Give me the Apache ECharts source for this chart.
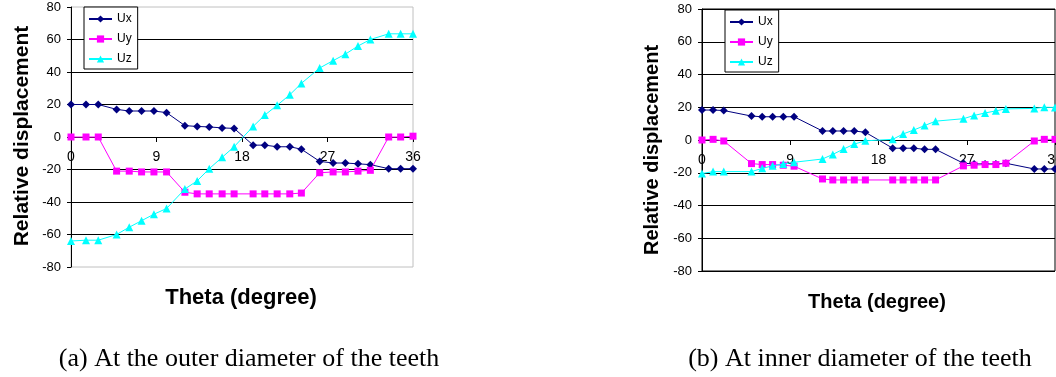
<!DOCTYPE html>
<html>
<head>
<meta charset="utf-8">
<script src="https://cdn.jsdelivr.net/npm/echarts@6/dist/echarts.min.js"></script>
<style>
html,body{margin:0;padding:0;background:#fff;}
#chart{width:1056px;height:377px;}
</style>
</head>
<body>
<div id="chart"></div>
<script>
// ---- data: (a) outer diameter ----
var thetaOuter = [0, 1.58, 2.87, 4.80, 6.13, 7.43, 8.73, 10.06, 11.99, 13.28, 14.55, 15.91, 17.17, 19.17, 20.40, 21.70, 23.03, 24.25, 26.18, 27.59, 28.88, 30.21, 31.51, 33.44, 34.70, 36.0];
var uxOuter = [20, 20, 20, 17, 16, 16, 16, 15, 7, 6.5, 6.2, 5.6, 5.3, -5, -5, -6, -6, -7.5, -15, -16, -16, -16.5, -17, -19.5, -19.5, -19.5];
var uyOuter = [0, 0, 0, -21, -21, -21.5, -21.5, -21.5, -34, -35, -35, -35, -35, -35, -35, -35, -35, -34.5, -22, -21.5, -21.5, -21, -20.5, 0, 0, 0.5];
var uzOuter = [-64, -63.5, -63.5, -60, -55.5, -51.5, -47.5, -44, -32, -27, -19.5, -12.5, -6, 6.5, 13.5, 19.5, 26, 33, 42.5, 47, 51, 56, 60, 63.5, 63.5, 63.5];

// ---- data: (b) inner diameter ----
var thetaInner = [0, 1.13, 2.22, 5.05, 6.14, 7.20, 8.29, 9.39, 12.29, 13.34, 14.44, 15.53, 16.66, 19.45, 20.51, 21.60, 22.70, 23.82, 26.66, 27.75, 28.87, 29.97, 30.99, 33.89, 34.91, 36.0];
var uxInner = [18.3, 18.3, 18, 14.6, 14.2, 14.2, 14.2, 14.2, 5.5, 5.5, 5.5, 5.5, 4.7, -5, -5, -5, -5.7, -5.7, -14.2, -14.6, -14.6, -14.6, -14.2, -17.7, -17.7, -17.7];
var uyInner = [0, 0.4, -0.6, -14.4, -15, -15, -15.4, -16, -23.8, -24.4, -24.4, -24.4, -24.4, -24.4, -24.4, -24.4, -24.4, -24.4, -15.8, -15.4, -15, -15, -14.2, -0.6, 0.4, 0.4];
var uzInner = [-20.5, -19.3, -19.3, -19.3, -17.3, -15.8, -14.6, -13.6, -11.6, -8.8, -5.5, -2.5, -0.5, 0.4, 3.7, 6.1, 8.8, 11.5, 13, 15, 16.5, 17.8, 19, 19.3, 20, 19.9];

var yTicks = {min: -80, max: 80, interval: 20};
var xTicks = {min: 0, max: 36, interval: 9};
var seriesNames = ['Ux', 'Uy', 'Uz'];
var captionA = '(a) At the outer diameter of the teeth';
var captionB = '(b) At inner diameter of the teeth';
var yTitle = 'Relative displacement';
var xTitle = 'Theta (degree)';

function pairs(xs, ys) { return xs.map(function (x, i) { return [x, ys[i]]; }); }

var styles = [
  {color: '#000080', symbol: 'diamond', size: 8},
  {color: '#ff00ff', symbol: 'rect', size: 7},
  {color: '#00ffff', symbol: 'triangle', size: 8}
];

function mkSeries(idx, xs, arrs) {
  return arrs.map(function (ys, k) {
    return {
      name: seriesNames[k], type: 'line', xAxisIndex: idx, yAxisIndex: idx,
      data: pairs(xs, ys),
      symbol: styles[k].symbol, symbolSize: styles[k].size, showSymbol: true,
      lineStyle: {color: styles[k].color, width: 1},
      itemStyle: {color: styles[k].color, borderWidth: 0},
      emphasis: {disabled: true}, animation: false, z: 3 + k
    };
  });
}

// x axis drawn along the y = 0 line (offset lifts it from the bottom of the plot to the zero line)
function mkX(idx, offset) {
  return {
    type: 'value', gridIndex: idx, min: xTicks.min, max: xTicks.max, interval: xTicks.interval,
    position: 'bottom', offset: offset,
    axisLine: {show: true, onZero: false, lineStyle: {color: '#000', width: 1}},
    axisTick: {show: true, length: 5, inside: false, lineStyle: {color: '#000'}},
    axisLabel: {color: '#000', fontSize: 14, fontFamily: 'Liberation Sans', margin: 13},
    splitLine: {show: false}
  };
}
function mkY(idx, edgeLines) {
  return {
    type: 'value', gridIndex: idx, min: yTicks.min, max: yTicks.max, interval: yTicks.interval,
    axisLine: {show: true, onZero: false, lineStyle: {color: '#000', width: 1}},
    axisTick: {show: true, length: 4, lineStyle: {color: '#000'}},
    axisLabel: {color: '#000', fontSize: 13, fontFamily: 'Liberation Sans', margin: 10},
    splitLine: {show: true, showMinLine: edgeLines, showMaxLine: edgeLines, lineStyle: {color: '#000', width: 1}}
  };
}
function mkLegend(left, top) {
  return {
    data: seriesNames, orient: 'vertical', left: left, top: top,
    backgroundColor: '#fff', borderColor: '#000', borderWidth: 1, borderRadius: 0,
    padding: [5, 6, 3, 4], itemGap: 6, itemWidth: 23, itemHeight: 9,
    textStyle: {color: '#000', fontSize: 12, fontFamily: 'Liberation Sans', lineHeight: 14},
    selectedMode: false
  };
}
function txt(x, y, text, font, rot) {
  return {
    type: 'text', x: x, y: y, rotation: rot || 0, z: 100,
    style: {text: text, font: font, fill: '#000', textAlign: 'center', textVerticalAlign: 'middle', align: 'center', verticalAlign: 'middle'}
  };
}

var chart = echarts.init(document.getElementById('chart'), null, {renderer: 'canvas'});
chart.setOption({
  animation: false,
  backgroundColor: '#fff',
  grid: [
    {left: 71, top: 7, width: 342, height: 260, show: true, borderColor: '#c0c0c0', borderWidth: 1, backgroundColor: '#fff', containLabel: false, outerBoundsMode: 'none'},
    {left: 702, top: 9, width: 353, height: 262, show: true, borderColor: '#000', borderWidth: 1, backgroundColor: '#fff', containLabel: false, outerBoundsMode: 'none'}
  ],
  xAxis: [mkX(0, -130), mkX(1, -131)],
  yAxis: [mkY(0, false), mkY(1, true)],
  legend: [mkLegend(84, 7), mkLegend(725, 10)],
  series: mkSeries(0, thetaOuter, [uxOuter, uyOuter, uzOuter]).concat(mkSeries(1, thetaInner, [uxInner, uyInner, uzInner])),
  graphic: [
    txt(22, 136, yTitle, 'bold 21px "Liberation Sans"', Math.PI / 2),
    txt(652, 150, yTitle, 'bold 20px "Liberation Sans"', Math.PI / 2),
    txt(241, 298, xTitle, 'bold 22px "Liberation Sans"'),
    txt(877, 302, xTitle, 'bold 20px "Liberation Sans"'),
    txt(249, 359, captionA, '26px "Liberation Serif"'),
    txt(860, 359, captionB, '26px "Liberation Serif"')
  ]
});
</script>
</body>
</html>
